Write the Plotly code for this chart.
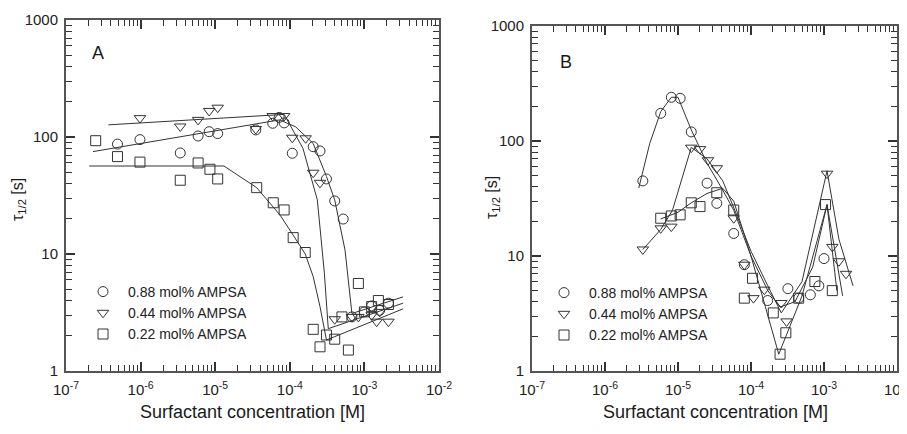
import plotly.graph_objects as go

# ---------------- Panel A data ----------------
a_circ_x = [4.9e-7, 9.8e-7, 3.4e-6, 5.9e-6, 8.3e-6, 1.08e-5, 3.5e-5, 5.9e-5, 7.2e-5, 8.4e-5,
            1.08e-4, 2.06e-4, 2.54e-4, 3.1e-4, 4.0e-4, 5.2e-4, 6.8e-4, 1.0e-3, 1.25e-3, 1.6e-3, 2.1e-3]
a_circ_y = [87, 95, 73, 102, 111, 107, 115, 131, 147, 132,
            72.6, 82.6, 76, 43.8, 28.4, 19.9, 2.9, 3.2, 3.6, 3.3, 3.8]
a_tri_x = [9.8e-7, 3.4e-6, 5.9e-6, 8.3e-6, 1.08e-5, 3.5e-5, 5.9e-5, 8.4e-5, 1.08e-4, 1.63e-4,
           2.06e-4, 2.54e-4, 4.0e-4, 6.8e-4, 8.3e-4, 1.25e-3, 1.46e-3, 1.6e-3, 2.1e-3]
a_tri_y = [145, 123, 140, 167, 178, 117, 151, 151, 98.6, 97.5,
           49.5, 40.6, 2.77, 2.9, 2.9, 3.0, 2.64, 3.2, 2.64]
a_sq_x = [2.5e-7, 4.9e-7, 9.8e-7, 3.4e-6, 5.9e-6, 8.5e-6, 1.08e-5, 3.6e-5, 6.0e-5, 8.4e-5,
          1.11e-4, 1.61e-4, 2.06e-4, 2.54e-4, 3.1e-4, 4.0e-4, 5.0e-4, 6.1e-4, 8.3e-4, 1.0e-3,
          1.25e-3, 1.54e-3, 2.1e-3]
a_sq_y = [93, 68, 61, 42.7, 60, 53, 43.8, 36.9, 27.4, 23.8,
          13.8, 10.3, 2.27, 1.61, 2.03, 1.87, 2.9, 1.51, 5.6, 3.2,
          3.55, 4.0, 3.7]

# fitted curves, panel A
a_circ_fit_x = [2.3e-7, 7.3e-5, 1.2e-4, 2.06e-4, 3.1e-4, 4.0e-4, 5.5e-4, 6.8e-4, 3.3e-3]
a_circ_fit_y = [75, 140, 122, 88, 46, 29, 10.8, 3.1, 4.3]
a_tri_fit_x = [3.7e-7, 8.4e-5, 1.5e-4, 2.34e-4, 2.9e-4, 3.28e-4, 3.3e-3]
a_tri_fit_y = [127, 156, 80, 29, 7, 2.3, 3.8]
a_sq_fit_x = [2.05e-7, 1.31e-5, 3.6e-5, 7.4e-5, 1.11e-4, 1.61e-4, 2.06e-4, 2.54e-4, 3.1e-4, 3.3e-3]
a_sq_fit_y = [56.5, 56.5, 36.9, 21.5, 14.5, 10.0, 6.4, 3.55, 1.84, 3.4]

# ---------------- Panel B data ----------------
b_circ_x = [3.3e-6, 5.8e-6, 8.1e-6, 1.07e-5, 1.52e-5, 2.5e-5, 3.4e-5, 5.8e-5, 8.1e-5, 1.69e-4,
            3.2e-4, 4.5e-4, 6.5e-4, 8.5e-4, 1.0e-3]
b_circ_y = [45, 174, 240, 235, 120, 43, 28.7, 15.7, 8.4, 4.1,
            5.2, 4.3, 4.6, 5.5, 9.5]
b_tri_x = [3.3e-6, 5.8e-6, 8.1e-6, 1.52e-5, 2.0e-5, 2.57e-5, 3.4e-5, 5.8e-5, 8.1e-5, 1.08e-4,
           1.52e-4, 2.6e-4, 3.07e-4, 1.1e-3, 1.3e-3, 1.6e-3, 2.0e-3]
b_tri_y = [11.4, 17.4, 18, 87.5, 85, 68, 58, 21.3, 8.4, 4.3,
           5.1, 3.9, 2.7, 52, 12, 9, 7]
b_sq_x = [5.8e-6, 8.1e-6, 1.07e-5, 1.52e-5, 2.0e-5, 3.4e-5, 5.8e-5, 8.1e-5, 1.05e-4, 2.02e-4,
          2.5e-4, 3.0e-4, 4.5e-4, 7.5e-4, 1.05e-3, 1.3e-3]
b_sq_y = [21.3, 22.3, 22.8, 29, 26.9, 35.5, 25.1, 4.3, 6.4, 3.2,
          1.4, 2.15, 4.3, 6.0, 28, 5.0]

b_circ_fit_x = [2.9e-6, 4.1e-6, 5.8e-6, 8.1e-6, 1.0e-5, 1.52e-5, 2.5e-5, 4.1e-5, 5.8e-5, 1.0e-4,
                1.7e-4, 2.5e-4, 4.0e-4, 7.0e-4, 1.1e-3, 1.8e-3]
b_circ_fit_y = [39, 95, 180, 240, 240, 125, 64, 37.5, 25, 10,
                5.0, 3.6, 4.0, 8.0, 28, 4.5]
b_tri_fit_x = [3.3e-6, 5.8e-6, 8.4e-6, 1.52e-5, 2.5e-5, 4.1e-5, 6.0e-5, 1.0e-4, 1.7e-4, 2.6e-4,
               5.0e-4, 1.1e-3, 1.6e-3, 2.5e-3]
b_tri_fit_y = [11.4, 17.0, 25, 88, 70, 45, 25, 11, 5.5, 3.2,
               6.0, 55, 14, 5.5]
b_sq_fit_x = [5.8e-6, 1.0e-5, 1.52e-5, 2.5e-5, 4.1e-5, 5.8e-5, 1.0e-4, 2.4e-4, 5.0e-4, 1.1e-3, 1.5e-3]
b_sq_fit_y = [21.0, 24.0, 29.0, 35.0, 38.8, 30.0, 10.0, 1.4, 4.5, 28.0, 5.0]

series_names = ["0.88 mol% AMPSA", "0.44 mol% AMPSA", "0.22 mol% AMPSA"]
x_tick_vals = [1e-7, 1e-6, 1e-5, 1e-4, 1e-3, 1e-2]
x_tick_text = ["10<sup>-7</sup>", "10<sup>-6</sup>", "10<sup>-5</sup>", "10<sup>-4</sup>",
               "10<sup>-3</sup>", "10<sup>-2</sup>"]
y_tick_vals = [1, 10, 100, 1000]
y_tick_text = ["1", "10", "100", "1000"]

INK = "#333333"
FONT = "Liberation Sans, Arial, sans-serif"
symbols = ["circle-open", "triangle-down-open", "square-open"]

fig = go.Figure()

def add_panel(fig, xa, ya, legend, pts, fits):
    for (x, y), (fx, fy) in zip(pts, fits):
        fig.add_trace(go.Scatter(x=fx, y=fy, mode="lines", xaxis=xa, yaxis=ya,
                                 line=dict(color=INK, width=1), showlegend=False,
                                 hoverinfo="skip"))
    for i, (x, y) in enumerate(pts):
        fig.add_trace(go.Scatter(x=x, y=y, mode="markers", xaxis=xa, yaxis=ya,
                                 name=series_names[i], legend=legend,
                                 marker=dict(symbol=symbols[i], size=10, color=INK,
                                             line=dict(width=1, color=INK))))

add_panel(fig, "x", "y", "legend",
          [(a_circ_x, a_circ_y), (a_tri_x, a_tri_y), (a_sq_x, a_sq_y)],
          [(a_circ_fit_x, a_circ_fit_y), (a_tri_fit_x, a_tri_fit_y), (a_sq_fit_x, a_sq_fit_y)])
add_panel(fig, "x2", "y2", "legend2",
          [(b_circ_x, b_circ_y), (b_tri_x, b_tri_y), (b_sq_x, b_sq_y)],
          [(b_circ_fit_x, b_circ_fit_y), (b_tri_fit_x, b_tri_fit_y), (b_sq_fit_x, b_sq_fit_y)])

# page body has an 8px margin: work in page pixels and convert
OFF = 8
W, H = 907 - OFF, 434 - 2 * OFF

def px(x):
    return (x - OFF) / W

def py(y):
    return 1 - (y - OFF) / H

def xaxis(x0, x1, anchor):
    return dict(type="log", range=[-7, -2], domain=[px(x0), px(x1)], anchor=anchor,
                tickvals=x_tick_vals, ticktext=x_tick_text,
                ticks="inside", ticklen=9, tickwidth=1.5, tickcolor=INK,
                showline=True, linecolor="#555555", linewidth=2, mirror="allticks",
                showgrid=False, zeroline=False, ticklabelstandoff=4,
                ticklabeloverflow="allow",
                minor=dict(ticks="inside", ticklen=6, tickwidth=1, tickcolor=INK,
                           dtick="D1", showgrid=False),
                tickfont=dict(family=FONT, size=15, color="#222222"))

def yaxis(y0, y1, anchor):
    return dict(type="log", range=[0, 3], domain=[py(y1), py(y0)], anchor=anchor,
                tickvals=y_tick_vals, ticktext=y_tick_text,
                ticks="inside", ticklen=9, tickwidth=1.5, tickcolor=INK,
                showline=True, linecolor="#555555", linewidth=2, mirror="allticks",
                showgrid=False, zeroline=False, ticklabelstandoff=3,
                ticklabeloverflow="allow",
                minor=dict(ticks="inside", ticklen=6, tickwidth=1, tickcolor=INK,
                           dtick="D1", showgrid=False),
                tickfont=dict(family=FONT, size=15, color="#222222"))

def legend_at(x_px, y_px):
    return dict(x=px(x_px), y=py(y_px), xanchor="left", yanchor="top",
                bgcolor="rgba(0,0,0,0)", borderwidth=0,
                font=dict(family=FONT, size=14, color="#222222"),
                itemwidth=40, tracegroupgap=0)

def note(text, x, y, size, angle=0):
    return dict(text=text, x=px(x), y=py(y), xref="paper", yref="paper", showarrow=False,
                textangle=angle, xanchor="center", yanchor="middle",
                font=dict(family=FONT, size=size, color="#1a1a1a"))

fig.update_layout(
    width=W, height=H,
    margin=dict(l=0, r=0, t=0, b=0, autoexpand=False),
    paper_bgcolor="white", plot_bgcolor="white",
    xaxis=xaxis(66, 439, "y"),
    yaxis=yaxis(20, 371, "x"),
    xaxis2=xaxis(532, 897, "y2"),
    yaxis2=yaxis(26, 371, "x2"),
    legend=legend_at(78, 276),
    legend2=legend_at(539, 277),
    annotations=[
        note("A", 98, 53, 18),
        note("B", 566, 62, 18),
        note("Surfactant concentration [M]", 252, 412, 18),
        note("Surfactant concentration [M]", 715, 412, 18),
        note("τ<sub>1/2</sub> [s]", 19, 200, 16, -90),
        note("τ<sub>1/2</sub> [s]", 492, 197, 16, -90),
    ],
)

fig.write_html("out.html")
